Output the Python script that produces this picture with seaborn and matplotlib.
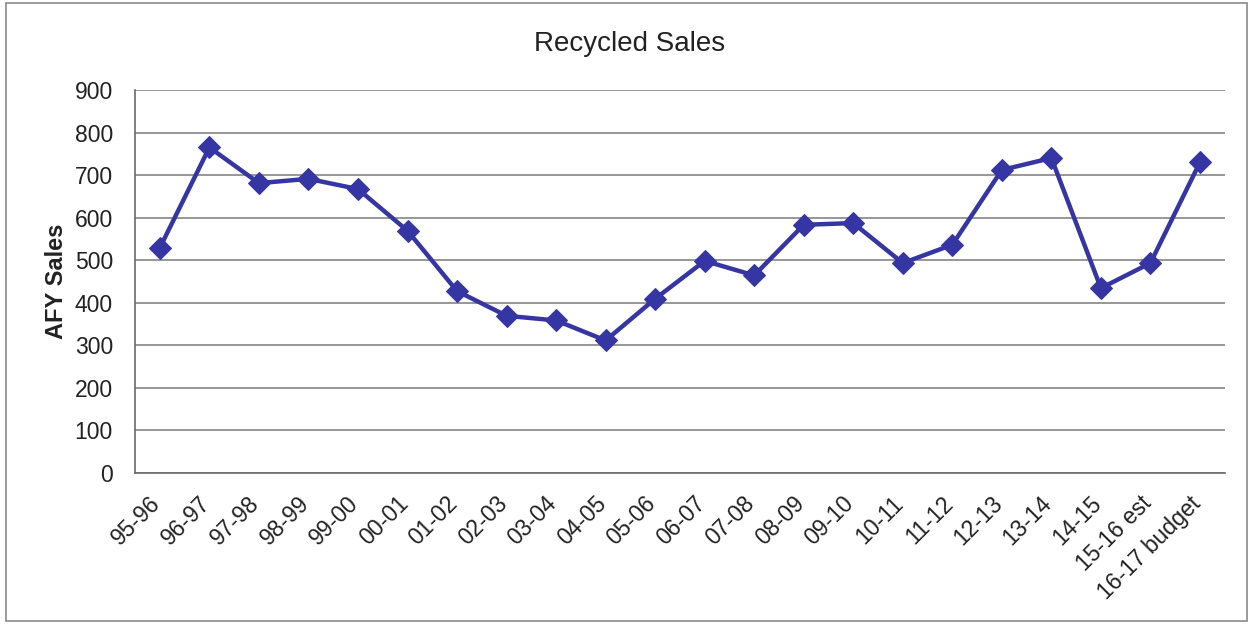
import matplotlib
matplotlib.use("Agg")
import matplotlib.pyplot as plt
import matplotlib.transforms as mtransforms
import seaborn as sns
import pandas as pd
from matplotlib.patches import Rectangle

# Fiscal years and recycled water sales (AFY)
periods = ["95-96", "96-97", "97-98", "98-99", "99-00", "00-01", "01-02",
           "02-03", "03-04", "04-05", "05-06", "06-07", "07-08", "08-09",
           "09-10", "10-11", "11-12", "12-13", "13-14", "14-15",
           "15-16 est", "16-17 budget"]
sales = [529, 765, 681, 691, 667, 569, 427, 369, 358, 311, 409, 498,
         464, 583, 587, 493, 536, 712, 740, 434, 493, 730]
y_ticks = [0, 100, 200, 300, 400, 500, 600, 700, 800, 900]

df = pd.DataFrame({"period": periods, "sales": sales})

sns.set_style("white")
plt.rcParams["font.family"] = ["Liberation Sans", "DejaVu Sans"]
plt.rcParams["text.color"] = "#222222"

fig = plt.figure(figsize=(12.51, 6.25), dpi=100)
ax = fig.add_axes([0.108, 0.2437, 0.871, 0.6123])

line_color = "#3535a3"
sns.lineplot(data=df, x="period", y="sales", ax=ax, sort=False,
             color=line_color, linewidth=3.2, marker="D", markersize=11,
             markeredgecolor=line_color, markerfacecolor=line_color)

ax.set_xlim(-0.5, len(periods) - 0.5)
ax.set_ylim(0, 900)
ax.set_yticks(y_ticks)
ax.set_yticklabels([str(v) for v in y_ticks])
ax.yaxis.grid(True, color="#7a7a7a", linewidth=1.1)
ax.set_axisbelow(True)

for side in ("top", "right"):
    ax.spines[side].set_visible(False)
for side in ("left", "bottom"):
    ax.spines[side].set_color("#6a6a6a")
    ax.spines[side].set_linewidth(1.2)

ax.tick_params(axis="y", length=0, pad=16, labelsize=16.5, labelcolor="#222222")
ax.tick_params(axis="x", length=0, pad=6, labelsize=16.5, labelcolor="#222222")
ax.set_xticks(range(len(periods)))
ax.set_xticklabels(periods, rotation=45, ha="right", rotation_mode="anchor")

# Push the slanted category labels a little further from the axis
shift = mtransforms.ScaledTranslation(-0.11, -0.11, fig.dpi_scale_trans)
for lbl in ax.get_xticklabels():
    lbl.set_transform(lbl.get_transform() + shift)

ax.set_xlabel("")
ax.set_ylabel("AFY Sales", fontsize=17, fontweight="bold", color="#222222")
ax.yaxis.set_label_coords(-0.062, 0.5)

fig.text(0.5036, 0.93, "Recycled Sales", ha="center", va="center",
         fontsize=20, color="#222222")

# Outer chart frame
fig.patches.append(Rectangle((0.0048, 0.0064), 0.992, 0.989,
                             transform=fig.transFigure, fill=False,
                             edgecolor="#8a8a8a", linewidth=1.2))

fig.savefig("out.png", dpi=100, facecolor="white")
